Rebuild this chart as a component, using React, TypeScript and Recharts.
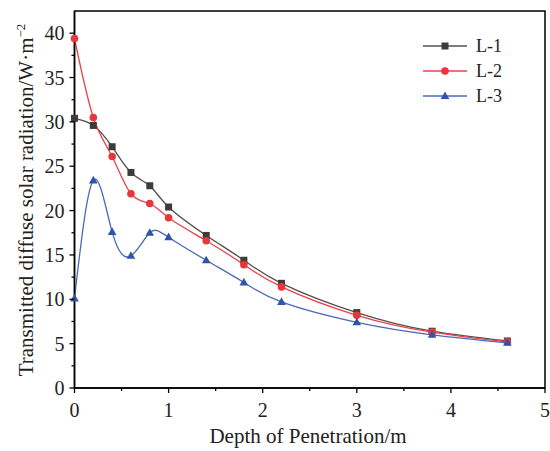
import React from 'react';
import { LineChart, Line, XAxis, YAxis, Label, ReferenceArea } from 'recharts';

// depth (m) and transmitted diffuse solar radiation (W/m2) per sample
const depth = [0, 0.2, 0.4, 0.6, 0.8, 1.0, 1.4, 1.8, 2.2, 3.0, 3.8, 4.6];
const l1 = [30.4, 29.6, 27.2, 24.3, 22.8, 20.4, 17.2, 14.4, 11.8, 8.5, 6.4, 5.3];
const l2 = [39.4, 30.5, 26.1, 21.9, 20.8, 19.2, 16.6, 13.9, 11.4, 8.2, 6.3, 5.2];
const l3 = [10.1, 23.4, 17.6, 14.9, 17.5, 17.0, 14.4, 11.9, 9.7, 7.4, 6.0, 5.1];

const xTicks = [0, 0.5, 1, 1.5, 2, 2.5, 3, 3.5, 4, 4.5, 5];
const yTicks = [0, 2.5, 5, 7.5, 10, 12.5, 15, 17.5, 20, 22.5, 25, 27.5, 30, 32.5, 35, 37.5, 40];

const series = [
  { key: 'l1', name: 'L-1', line: '#55504d', fill: '#403b39', shape: 'square' },
  { key: 'l2', name: 'L-2', line: '#ee4048', fill: '#e8363d', shape: 'circle' },
  { key: 'l3', name: 'L-3', line: '#4a69bb', fill: '#2f55a9', shape: 'triangle' },
];

const data = depth.map((d, i) => ({ depth: d, l1: l1[i], l2: l2[i], l3: l3[i] }));

const FONT = '"Liberation Serif", "Times New Roman", serif';

const Marker = ({ cx, cy, shape, fill }) => {
  if (cx == null || cy == null) return null;
  if (shape === 'square') return <rect x={cx - 3.5} y={cy - 3.5} width={7} height={7} fill={fill} />;
  if (shape === 'circle') return <circle cx={cx} cy={cy} r={3.8} fill={fill} />;
  return <polygon points={`${cx},${cy - 4.6} ${cx + 4.3},${cy + 3} ${cx - 4.3},${cy + 3}`} fill={fill} />;
};

const XTick = ({ x, y, payload }) => {
  const major = Number.isInteger(payload.value);
  return (
    <g>
      <line x1={x} x2={x} y1={y} y2={y + (major ? 5 : 3)} stroke="#000" strokeWidth={1.3} />
      {major && (
        <text x={x} y={y + 29} textAnchor="middle" fontSize={20} fontFamily={FONT} fill="#222">
          {payload.value}
        </text>
      )}
    </g>
  );
};

const YTick = ({ x, y, payload }) => {
  const major = payload.value % 5 === 0;
  return (
    <g>
      <line x1={x} x2={x - (major ? 5 : 3)} y1={y} y2={y} stroke="#000" strokeWidth={1.3} />
      {major && (
        <text x={x - 10} y={y + 7} textAnchor="end" fontSize={20} fontFamily={FONT} fill="#222">
          {payload.value}
        </text>
      )}
    </g>
  );
};

const YTitle = () => (
  <text
    x={33}
    y={200}
    transform="rotate(-90 33 200)"
    textAnchor="middle"
    fontSize={21}
    fontFamily={FONT}
    fill="#222"
  >
    Transmitted diffuse solar radiation/W·m
    <tspan dy={-8} fontSize={13}>−2</tspan>
  </text>
);

const LegendBox = () => (
  <div
    style={{
      position: 'absolute',
      left: 423,
      top: 33,
      fontFamily: FONT,
      fontSize: 18,
      color: '#222',
    }}
  >
    {series.map(s => (
      <div key={s.key} style={{ display: 'flex', alignItems: 'center', height: 25 }}>
        <svg width={53} height={14}>
          <line x1={0} x2={44} y1={7} y2={7} stroke={s.line} strokeWidth={1.3} />
          <Marker cx={22} cy={7} shape={s.shape} fill={s.fill} />
        </svg>
        <span style={{ lineHeight: '18px' }}>{s.name}</span>
      </div>
    ))}
  </div>
);

export default function App() {
  return (
    <div style={{ position: 'absolute', left: 0, top: 0, width: 550, height: 451, background: '#fff' }}>
      <LineChart width={550} height={451} data={data} margin={{ top: 11, right: 5, bottom: 13, left: 14.5 }}>
        <XAxis
          type="number"
          dataKey="depth"
          domain={[0, 5]}
          ticks={xTicks}
          interval={0}
          tickLine={false}
          tickSize={0}
          tickMargin={0}
          tick={<XTick />}
          height={50}
          axisLine={{ stroke: '#000', strokeWidth: 1.5 }}
        >
          <Label
            content={() => (
              <text x={308} y={443} textAnchor="middle" fontSize={21} fontFamily={FONT} fill="#222">
                Depth of Penetration/m
              </text>
            )}
          />
        </XAxis>
        <YAxis
          type="number"
          domain={[0, 42.5]}
          ticks={yTicks}
          interval={0}
          allowDataOverflow
          tickLine={false}
          tickSize={0}
          tickMargin={0}
          tick={<YTick />}
          width={60}
          axisLine={{ stroke: '#000', strokeWidth: 1.5 }}
        >
          <Label content={() => <YTitle />} />
        </YAxis>
        <ReferenceArea
          x1={0}
          x2={5}
          y1={0}
          y2={42.5}
          fill="none"
          fillOpacity={0}
          stroke="#000"
          strokeWidth={1.5}
          ifOverflow="visible"
        />
        {series.map(s => (
          <Line
            key={s.key}
            type="natural"
            dataKey={s.key}
            name={s.name}
            stroke={s.line}
            strokeWidth={1.3}
            dot={props => <Marker key={`${s.key}-${props.index}`} cx={props.cx} cy={props.cy} shape={s.shape} fill={s.fill} />}
            activeDot={false}
            isAnimationActive={false}
          />
        ))}
      </LineChart>
      <LegendBox />
    </div>
  );
}
